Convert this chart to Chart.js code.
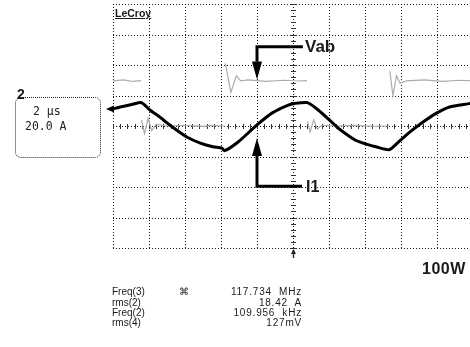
<!DOCTYPE html>
<html>
<head>
<meta charset="utf-8">
<script src="https://cdn.jsdelivr.net/npm/chart.js@4/dist/chart.umd.min.js"></script>
<style>
  html, body { margin: 0; padding: 0; background: #fff; width: 470px; height: 347px; overflow: hidden; }
  #wrap { position: absolute; left: 0; top: 0; width: 480px; height: 347px; }
  .t { position: absolute; white-space: pre; color: #1a1a1a; line-height: 1; }
  .small { font-family: "Liberation Sans", Arial, sans-serif; font-size: 10px; }
  .mono { font-family: "DejaVu Sans Mono", monospace; font-size: 11.5px; color: #222; }
  .big { font-family: "Liberation Sans", Arial, sans-serif; font-weight: bold; }
  #chbox { position: absolute; left: 15px; top: 97px; width: 84px; height: 59px;
           border: 1px dotted #222; border-radius: 6px; }
</style>
</head>
<body>
<div id="wrap"><canvas id="scope"></canvas></div>

<div class="t small" style="left:115px;top:8px;font-size:10.5px;font-weight:bold;text-decoration:underline;">LeCroy</div>
<div id="chbox"></div>
<div class="t big" style="left:17px;top:87px;font-size:14px;">2</div>
<div class="t mono" style="left:33px;top:106px;">2 µs</div>
<div class="t mono" style="left:25px;top:121px;">20.0 A</div>

<div class="t big" style="left:305px;top:38px;font-size:17px;">Vab</div>
<div class="t big" style="left:306px;top:179px;font-size:16px;">I1</div>
<div class="t big" style="left:422px;top:261px;font-size:16px;letter-spacing:0.5px;">100W</div>

<div class="t small" style="left:112px;top:287px;">Freq(3)</div>
<div class="t small" style="left:179px;top:287px;">⌘</div>
<div class="t small" style="left:112px;top:298px;">rms(2)</div>
<div class="t small" style="left:112px;top:308px;">Freq(2)</div>
<div class="t small" style="left:112px;top:318px;">rms(4)</div>
<div class="t small" style="right:168px;top:287px;letter-spacing:0.8px;">117.734  MHz</div>
<div class="t small" style="right:168px;top:298px;letter-spacing:0.8px;">18.42  A</div>
<div class="t small" style="right:168px;top:308px;letter-spacing:0.8px;">109.956  kHz</div>
<div class="t small" style="right:168px;top:318px;letter-spacing:0.8px;">127mV</div>

<script>
// Time base: 2 µs/div, 10 divisions; current: 20 A/div, 8 divisions
const timeMin = -10, timeMax = 10, timeStep = 2;
const ampMin = -80, ampMax = 80, ampStep = 20;

// Inductor current I1 (A) vs time (µs)
const i1Time = [-10, -9.6, -8.9, -8.42, -7.95, -7.4, -6.7, -5.9, -5.15, -4.45, -3.95, -3.8,
                -3.05, -2.0, -1.15, -0.3, 0.1, 0.8, 1.4, 2.15, 2.5, 3.45, 3.9, 4.65, 5.35,
                5.8, 6.5, 7.15, 8.0, 8.7, 9.7, 10];
const i1Amps = [11.2, 12.5, 14.3, 15.3, 10.5, 5.9, -0.7, -7.2, -11.2, -13.6, -14.5, -16.2,
                -10.5, 0.7, 8.6, 13.6, 14.8, 15.3, 10.5, 2.6, -1.3, -9.2, -11.2, -13.8, -15.6,
                -11.2, -3.9, 2.0, 8.6, 12.5, 14.5, 15.0];

// Bridge voltage Vab, plotted in screen units of the same grid
const vabTime = [-10, -9.4, -8.9, -8.45, -8.42, -8.25, -8.05, -7.85, -7.6, -7.0, -6.0, -5.0, -4.5,
                 -3.8, -3.76, -3.45, -3.15, -2.9, -2.5, -1.5, -0.5, 0.3, 0.78, 0.8, 0.95, 1.15,
                 1.35, 1.6, 2.5, 3.5, 4.5, 5.35, 5.38, 5.55, 5.75, 5.95, 6.3, 7.3, 8.3, 9.3, 10];
const vabLevel = [29.6, 30.2, 29.2, 29.8, 4, -5, 5, -3, 1, 0, 0.5, -0.3, 0.4,
                  0, 41, 22, 33, 29.6, 30.3, 29.2, 30, 29.5, 29.8, 3, -4, 4,
                  -2, 0.5, 0, 0.4, -0.3, 0, 36, 20, 33, 28, 29.6, 30.2, 29.3, 30, 29.6];

// Annotation arrows (time µs, level in grid units)
const vabArrow = { x: -2, yStart: 52, yTip: 30.5, xEnd: 0.55 };
const i1Arrow  = { x: -2, yStart: -39.5, yTip: -7.9, xEnd: 0.5 };

const toXY = (xs, ys) => xs.map((v, i) => ({ x: v, y: ys[i] }));
const crisp = p => Math.round(p) + 0.5;

function drawArrow(ctx, xs, ys, a) {
  const x0 = xs.getPixelForValue(a.x);
  const y0 = ys.getPixelForValue(a.yStart);
  const yt = ys.getPixelForValue(a.yTip);
  const x1 = xs.getPixelForValue(a.xEnd);
  const dir = Math.sign(yt - y0);
  const headLen = 18, headHalf = 5;
  ctx.save();
  ctx.strokeStyle = '#000';
  ctx.fillStyle = '#000';
  ctx.lineWidth = 3;
  ctx.beginPath();
  ctx.moveTo(x1, y0);
  ctx.lineTo(x0, y0);
  ctx.lineTo(x0, yt - dir * headLen);
  ctx.stroke();
  ctx.beginPath();
  ctx.moveTo(x0, yt);
  ctx.lineTo(x0 - headHalf, yt - dir * headLen);
  ctx.lineTo(x0 + headHalf, yt - dir * headLen);
  ctx.closePath();
  ctx.fill();
  ctx.restore();
}

const scopeOverlay = {
  id: 'scopeOverlay',
  beforeDatasetsDraw(chart) {
    const { ctx, scales: { x, y }, chartArea } = chart;
    const { left, right, top, bottom } = chartArea;
    ctx.save();
    // dotted graticule at every scale tick
    ctx.strokeStyle = '#111';
    ctx.lineWidth = 1;
    ctx.setLineDash([1, 2]);
    ctx.beginPath();
    x.ticks.forEach(t => {
      const px = crisp(x.getPixelForValue(t.value));
      ctx.moveTo(px, top); ctx.lineTo(px, bottom);
    });
    y.ticks.forEach(t => {
      const py = crisp(y.getPixelForValue(t.value));
      ctx.moveTo(left, py); ctx.lineTo(right, py);
    });
    ctx.stroke();
    ctx.setLineDash([]);

    // minor tick marks on the centre lines
    const cx = crisp(x.getPixelForValue(0));
    const cy = crisp(y.getPixelForValue(0));
    ctx.strokeStyle = '#333';
    ctx.beginPath();
    for (let k = 0; k <= 50; k++) {
      const px = crisp(x.getPixelForValue(timeMin + k * timeStep / 5));
      ctx.moveTo(px, cy - 2.5); ctx.lineTo(px, cy + 2.5);
    }
    for (let k = 0; k <= 40; k++) {
      const py = crisp(y.getPixelForValue(ampMin + k * ampStep / 5));
      ctx.moveTo(cx - 2.5, py); ctx.lineTo(cx + 2.5, py);
    }
    ctx.stroke();

    // trigger position marker under the grid
    ctx.lineWidth = 1.5;
    ctx.beginPath();
    ctx.moveTo(cx, bottom + 10); ctx.lineTo(cx, bottom + 2);
    ctx.stroke();
    ctx.beginPath();
    ctx.moveTo(cx, bottom + 1); ctx.lineTo(cx - 2.5, bottom + 6); ctx.lineTo(cx + 2.5, bottom + 6);
    ctx.closePath(); ctx.fillStyle = '#222'; ctx.fill();
    ctx.restore();
  },
  afterDatasetsDraw(chart) {
    const { ctx, scales: { x, y } } = chart;
    // channel marker at trace start
    const sx = x.getPixelForValue(i1Time[0]);
    const sy = y.getPixelForValue(i1Amps[0]);
    ctx.save();
    ctx.fillStyle = '#000';
    ctx.beginPath();
    ctx.moveTo(sx - 7, sy); ctx.lineTo(sx + 1, sy - 3.5); ctx.lineTo(sx + 1, sy + 3.5);
    ctx.closePath(); ctx.fill();
    ctx.restore();
    drawArrow(ctx, x, y, vabArrow);
    drawArrow(ctx, x, y, i1Arrow);
  }
};

new Chart(document.getElementById('scope'), {
  type: 'line',
  data: {
    datasets: [
      {
        label: 'I1',
        data: toXY(i1Time, i1Amps),
        borderColor: '#000',
        borderWidth: 3,
        pointRadius: 0,
        tension: 0.2,
        borderCapStyle: 'round',
        borderJoinStyle: 'round'
      },
      {
        label: 'Vab',
        data: toXY(vabTime, vabLevel),
        borderColor: '#acacac',
        borderWidth: 1.2,
        pointRadius: 0,
        tension: 0,
        segment: {
          borderColor: c => {
            const dy = Math.abs(c.p1.parsed.y - c.p0.parsed.y);
            const dx = Math.abs(c.p1.parsed.x - c.p0.parsed.x);
            return dy > 200 * dx ? 'rgba(0,0,0,0)' : undefined;
          }
        }
      }
    ]
  },
  options: {
    responsive: true,
    maintainAspectRatio: false,
    animation: false,
    devicePixelRatio: 1,
    layout: { padding: { left: 113, top: 4, right: 7, bottom: 99 } },
    plugins: { legend: { display: false }, tooltip: { enabled: false } },
    scales: {
      x: {
        type: 'linear', min: timeMin, max: timeMax,
        ticks: { display: false, stepSize: timeStep },
        grid: { display: false, drawTicks: false },
        border: { display: false }
      },
      y: {
        type: 'linear', min: ampMin, max: ampMax,
        ticks: { display: false, stepSize: ampStep },
        grid: { display: false, drawTicks: false },
        border: { display: false }
      }
    }
  },
  plugins: [scopeOverlay]
});
</script>
</body>
</html>
